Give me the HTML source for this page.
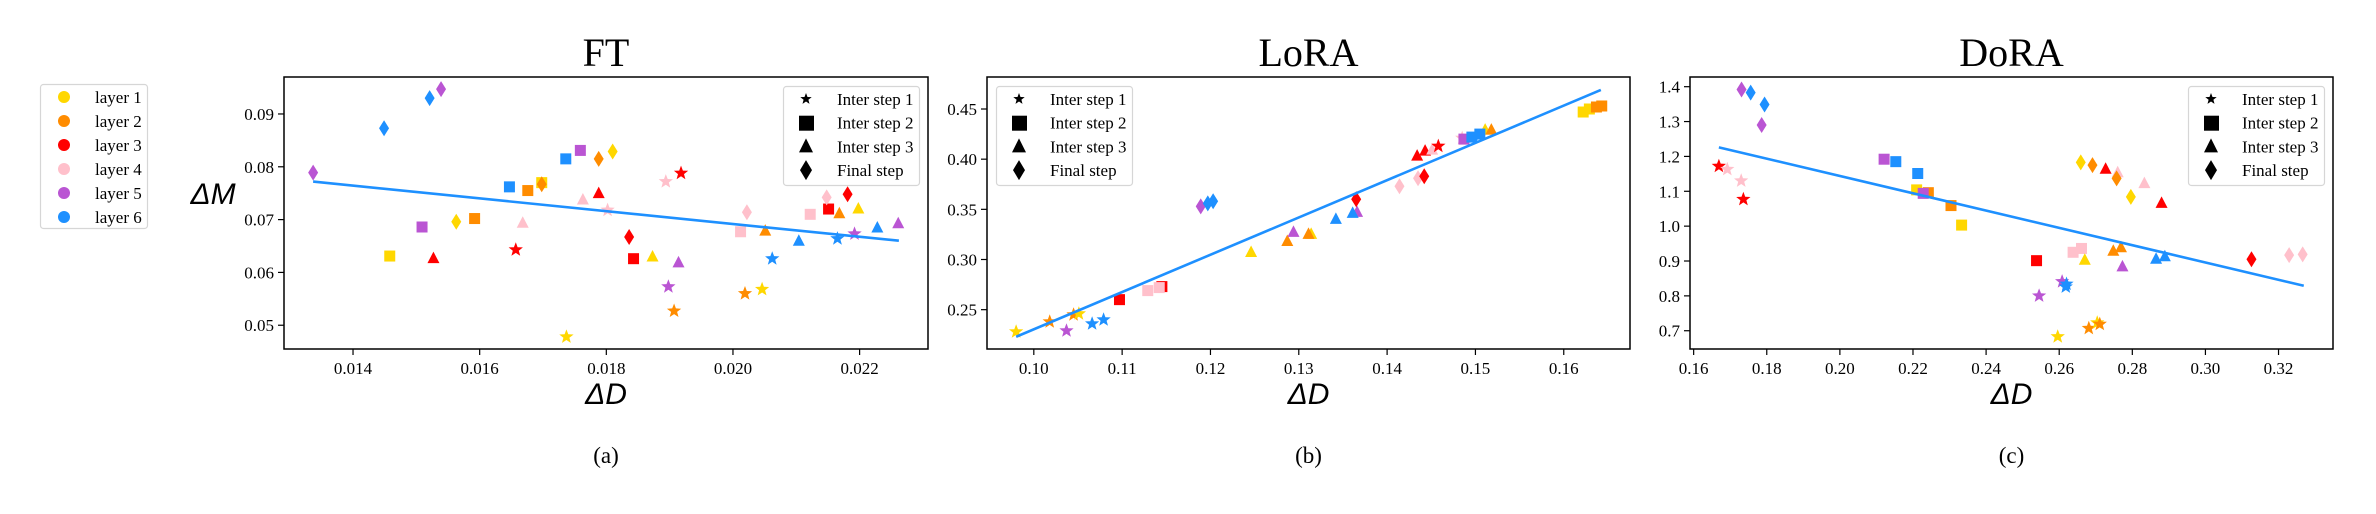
<!DOCTYPE html>
<html><head><meta charset="utf-8">
<style>
html,body{margin:0;padding:0;background:#fff;}
svg{display:block;font-family:"Liberation Serif",serif;}
</style></head>
<body>
<svg id="fig" width="2376" height="514" viewBox="0 0 2376 514" xmlns="http://www.w3.org/2000/svg">
<rect x="0" y="0" width="2376" height="514" fill="#fff"/>
<g>
<rect x="40.5" y="84.5" width="107" height="144" rx="3" fill="#fff" stroke="#d6d6d6" stroke-width="1.2"/>
<circle cx="64" cy="97" r="6" fill="#FFD700"/><text x="95" y="103" font-size="17">layer 1</text>
<circle cx="64" cy="121" r="6" fill="#FF8C00"/><text x="95" y="127" font-size="17">layer 2</text>
<circle cx="64" cy="145" r="6" fill="#FF0000"/><text x="95" y="151" font-size="17">layer 3</text>
<circle cx="64" cy="169" r="6" fill="#FFC0CB"/><text x="95" y="175" font-size="17">layer 4</text>
<circle cx="64" cy="193" r="6" fill="#BA55D3"/><text x="95" y="199" font-size="17">layer 5</text>
<circle cx="64" cy="217" r="6" fill="#1E90FF"/><text x="95" y="223" font-size="17">layer 6</text>
</g>
</svg>
<script>
// ---------- FT data ----------
var ftX=[0.01337,0.01449,0.01521,0.01539,0.01458,0.01509,0.01527,0.01563,0.01592,0.01657,0.01668,0.01647,0.01676,0.01698,0.01698,0.01737,0.01736,0.01759,0.01763,0.01788,0.01788,0.01810,0.01802,0.01836,0.01843,0.01873,0.01914,0.01894,0.01918,0.02012,0.02022,0.02051,0.02104,0.02062,0.02122,0.02151,0.02148,0.02168,0.02181,0.02198,0.02165,0.02192,0.02228,0.02261,0.01898,0.01907,0.02019,0.02046];
var ftY=[0.0789,0.0873,0.0930,0.0947,0.0631,0.0686,0.0628,0.0696,0.0702,0.0643,0.0695,0.0762,0.0755,0.0770,0.0767,0.0478,0.0815,0.0831,0.0739,0.0751,0.0815,0.0829,0.0718,0.0667,0.0626,0.0631,0.0620,0.0772,0.0788,0.0677,0.0714,0.0680,0.0661,0.0626,0.0710,0.0720,0.0742,0.0713,0.0748,0.0722,0.0664,0.0673,0.0686,0.0694,0.0573,0.0527,0.0560,0.0568];
var ftLayer=[5,6,6,5,1,5,3,1,2,3,4,6,2,1,2,1,6,5,4,3,2,1,4,3,3,1,5,4,3,4,4,2,6,6,4,3,4,2,3,1,6,5,6,5,5,2,2,1];
var ftStep=[3,3,3,3,1,1,2,3,1,0,2,1,1,1,3,0,1,1,2,2,3,3,0,3,1,2,2,0,0,1,3,2,2,0,1,1,3,2,3,2,0,0,2,2,0,0,0,0];
var ftFitX=[0.01337,0.02262];
var ftFitY=[0.0772,0.0660];
var ftXTicks=[0.014,0.016,0.018,0.020,0.022];
var ftYTicks=[0.05,0.06,0.07,0.08,0.09];
var ftXLabels=["0.014","0.016","0.018","0.020","0.022"];
var ftYLabels=["0.05","0.06","0.07","0.08","0.09"];
// ---------- LoRA data ----------
var loX=[0.0980,0.1018,0.1045,0.1051,0.1037,0.1066,0.1079,0.1097,0.1129,0.1145,0.1142,0.1189,0.1197,0.1203,0.1246,0.1287,0.1294,0.1314,0.1311,0.1342,0.1366,0.1361,0.1365,0.1414,0.1435,0.1442,0.1434,0.1443,0.1451,0.1458,0.1485,0.1487,0.1511,0.1518,0.1496,0.1505,0.1622,0.1629,0.1637,0.1643];
var loY=[0.228,0.238,0.245,0.246,0.229,0.236,0.240,0.260,0.269,0.273,0.272,0.353,0.356,0.358,0.308,0.319,0.328,0.326,0.326,0.341,0.348,0.347,0.360,0.373,0.381,0.383,0.404,0.409,0.410,0.413,0.421,0.420,0.430,0.430,0.422,0.425,0.447,0.450,0.452,0.453];
var loLayer=[1,2,2,1,5,6,6,3,4,3,4,5,6,6,1,2,5,1,2,6,5,6,3,4,4,3,3,3,4,3,4,5,1,2,6,6,1,1,2,2];
var loStep=[0,0,0,0,0,0,0,1,1,1,1,3,3,3,2,2,2,2,2,2,2,2,3,3,3,3,2,2,2,0,0,1,2,2,1,1,1,1,1,1];
var loFitX=[0.0980,0.1642];
var loFitY=[0.223,0.469];
var loXTicks=[0.10,0.11,0.12,0.13,0.14,0.15,0.16];
var loYTicks=[0.25,0.30,0.35,0.40,0.45];
var loXLabels=["0.10","0.11","0.12","0.13","0.14","0.15","0.16"];
var loYLabels=["0.25","0.30","0.35","0.40","0.45"];
// ---------- DoRA data ----------
var doX=[0.1731,0.1756,0.1794,0.1786,0.1669,0.1692,0.1730,0.1736,0.2121,0.2153,0.2213,0.2210,0.2242,0.2228,0.2304,0.2333,0.2538,0.2638,0.2661,0.2670,0.2608,0.2620,0.2618,0.2545,0.2596,0.2681,0.2704,0.2711,0.2659,0.2691,0.2727,0.2760,0.2757,0.2833,0.2796,0.2880,0.2748,0.2769,0.2773,0.2865,0.2889,0.3126,0.3229,0.3266];
var doY=[1.392,1.383,1.349,1.290,1.172,1.163,1.130,1.077,1.192,1.185,1.151,1.104,1.096,1.094,1.059,1.003,0.901,0.925,0.936,0.905,0.841,0.834,0.826,0.800,0.683,0.707,0.723,0.719,1.183,1.175,1.166,1.156,1.137,1.125,1.084,1.068,0.931,0.941,0.886,0.908,0.915,0.905,0.917,0.919];
var doLayer=[5,6,6,5,3,4,4,3,5,6,6,1,2,5,2,1,3,4,4,1,5,6,6,5,1,2,1,2,1,2,3,4,2,4,1,3,2,2,5,6,6,3,4,4];
var doStep=[3,3,3,3,0,0,0,0,1,1,1,1,1,1,1,1,1,1,1,2,0,0,0,0,0,0,0,0,3,3,2,2,3,2,3,2,2,2,2,2,2,3,3,3];
var doFitX=[0.1669,0.3269];
var doFitY=[1.226,0.829];
var doXTicks=[0.16,0.18,0.20,0.22,0.24,0.26,0.28,0.30,0.32];
var doYTicks=[0.7,0.8,0.9,1.0,1.1,1.2,1.3,1.4];
var doXLabels=["0.16","0.18","0.20","0.22","0.24","0.26","0.28","0.30","0.32"];
var doYLabels=["0.7","0.8","0.9","1.0","1.1","1.2","1.3","1.4"];

var COLORS=["","#FFD700","#FF8C00","#FF0000","#FFC0CB","#BA55D3","#1E90FF"];
var STEPNAMES=["star","square","triangle","diamond"];
var NS="http://www.w3.org/2000/svg";
var svg=document.getElementById("fig");
function mk(tag,attrs,parent){var e=document.createElementNS(NS,tag);for(var k in attrs)e.setAttribute(k,attrs[k]);(parent||svg).appendChild(e);return e;}
function starPts(cx,cy,R){var r=R*0.42,p=[];for(var i=0;i<10;i++){var a=-Math.PI/2+i*Math.PI/5,rr=i%2?r:R;p.push((cx+rr*Math.cos(a)).toFixed(1)+","+(cy+rr*Math.sin(a)).toFixed(1));}return p.join(" ");}
function marker(step,cx,cy,color,g,scale){
  scale=scale||1;var e;
  if(step===0){e=mk("polygon",{points:starPts(cx,cy,7.5*scale),fill:color},g);}
  else if(step===1){var s=11*scale;e=mk("rect",{x:cx-s/2,y:cy-s/2,width:s,height:s,fill:color},g);}
  else if(step===2){var w=6*scale,h=5.5*scale;e=mk("polygon",{points:(cx)+","+(cy-h-0.5)+" "+(cx+w)+","+(cy+h)+" "+(cx-w)+","+(cy+h),fill:color},g);}
  else{var dw=5*scale,dh=8*scale;e=mk("polygon",{points:cx+","+(cy-dh)+" "+(cx+dw)+","+cy+" "+cx+","+(cy+dh)+" "+(cx-dw)+","+cy,fill:color},g);}
  return e;
}
function panel(cfg){
  var g=mk("g",{});
  
  
  var L=cfg.L,R=cfg.R,T=77,B=349;
  function sx(v){return L+(v-cfg.x0)/(cfg.x1-cfg.x0)*(R-L);}
  function sy(v){return B-(v-cfg.y0)/(cfg.y1-cfg.y0)*(B-T);}
  var t=mk("text",{x:(L+R)/2,y:66,"font-size":40,"text-anchor":"middle"},g);t.textContent=cfg.title;
  
  
  // ticks
  for(var i=0;i<cfg.xt.length;i++){var X=sx(cfg.xt[i]);mk("line",{x1:X,y1:B,x2:X,y2:B+6,stroke:"#000","stroke-width":1.2},g);
    var tl=mk("text",{x:X,y:B+25,"font-size":17,"text-anchor":"middle"},g);tl.textContent=cfg.xl[i];
    
    }
  for(var j=0;j<cfg.yt.length;j++){var Y=sy(cfg.yt[j]);mk("line",{x1:L-6,y1:Y,x2:L,y2:Y,stroke:"#000","stroke-width":1.2},g);
    var yl=mk("text",{x:L-10,y:Y+6,"font-size":17,"text-anchor":"end"},g);yl.textContent=cfg.yl[j];
    
    }
  var xa=mk("text",{x:(L+R)/2,y:404,"font-size":30,"font-style":"italic","text-anchor":"middle","font-family":"Liberation Sans, sans-serif"},g);xa.textContent="\u0394D";
  
  
  if(cfg.ylab){var ya=mk("text",{x:213,y:204,"font-size":30,"font-style":"italic","text-anchor":"middle","font-family":"Liberation Sans, sans-serif"},g);ya.textContent="\u0394M";
    
    }
  var cap=mk("text",{x:(L+R)/2,y:463,"font-size":23,"text-anchor":"middle"},g);cap.textContent=cfg.cap;
  
  
  // points
  for(var k=0;k<cfg.xs.length;k++){
    var m=marker(cfg.st[k],sx(cfg.xs[k]),sy(cfg.ys[k]),COLORS[cfg.ly[k]],g,1);
    
    
  }
  var fl=mk("line",{x1:sx(cfg.fx[0]),y1:sy(cfg.fy[0]),x2:sx(cfg.fx[1]),y2:sy(cfg.fy[1]),stroke:"#1E90FF","stroke-width":2.6},g);
  
  
  mk("rect",{x:L,y:T,width:R-L,height:B-T,fill:"none",stroke:"#000","stroke-width":1.5},g);
  // step legend
  var lg=mk("g",{},g);
  
  
  var lx=cfg.legX;
  mk("rect",{x:lx+0.5,y:86.5,width:136,height:99,rx:3,fill:"#fff","fill-opacity":0.85,stroke:"#d6d6d6","stroke-width":1.2},lg);
  var names=["Inter step 1","Inter step 2","Inter step 3","Final step"];
  for(var s=0;s<4;s++){var yy=99+s*23.7;
    if(s===0)mk("polygon",{points:starPts(lx+23,yy,6),fill:"#000"},lg);
    else if(s===1)mk("rect",{x:lx+16,y:yy-7,width:15,height:15,fill:"#000"},lg);
    else if(s===2)mk("polygon",{points:(lx+23)+","+(yy-8)+" "+(lx+30)+","+(yy+6)+" "+(lx+16)+","+(yy+6),fill:"#000"},lg);
    else mk("polygon",{points:(lx+23)+","+(yy-10)+" "+(lx+29)+","+yy+" "+(lx+23)+","+(yy+10)+" "+(lx+17)+","+yy,fill:"#000"},lg);
    var lt=mk("text",{x:lx+54,y:yy+6,"font-size":17},lg);lt.textContent=names[s];
    
    }
}
panel({name:"ft",title:"FT",cap:"(a)",L:284,R:928,x0:0.01291,x1:0.02308,y0:0.0455,y1:0.0970,xs:ftX,ys:ftY,ly:ftLayer,st:ftStep,fx:ftFitX,fy:ftFitY,xt:ftXTicks,yt:ftYTicks,xl:ftXLabels,yl:ftYLabels,ylab:true,legX:783});
panel({name:"lora",title:"LoRA",cap:"(b)",L:987,R:1630,x0:0.0947,x1:0.1675,y0:0.2108,y1:0.4819,xs:loX,ys:loY,ly:loLayer,st:loStep,fx:loFitX,fy:loFitY,xt:loXTicks,yt:loYTicks,xl:loXLabels,yl:loYLabels,ylab:false,legX:996});
panel({name:"dora",title:"DoRA",cap:"(c)",L:1690,R:2333,x0:0.1590,x1:0.3349,y0:0.6476,y1:1.4278,xs:doX,ys:doY,ly:doLayer,st:doStep,fx:doFitX,fy:doFitY,xt:doXTicks,yt:doYTicks,xl:doXLabels,yl:doYLabels,ylab:false,legX:2188});
</script>
</body></html>
